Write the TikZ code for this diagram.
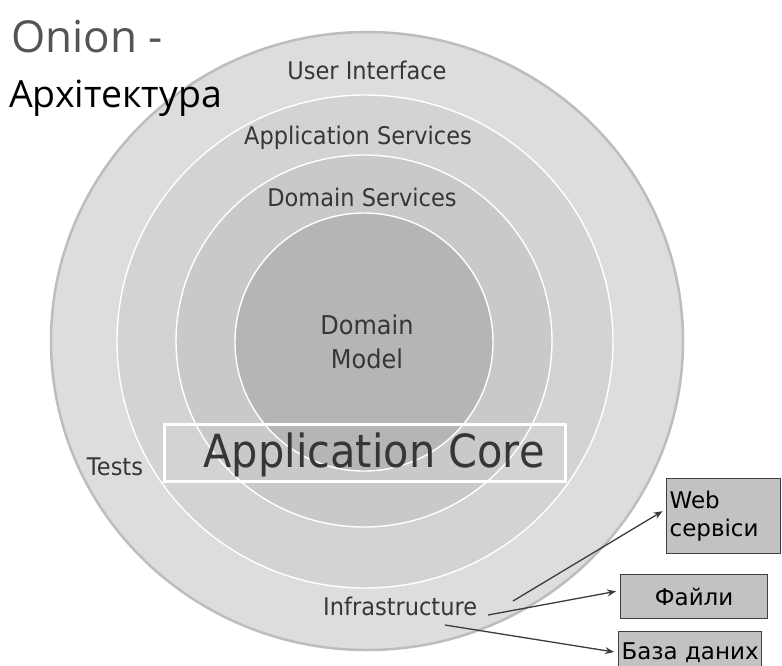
\documentclass[tikz,border=0pt]{standalone}
\usepackage{fontspec}
\setmainfont{DejaVu Sans}
\newfontfamily\titlefont{Open Sans}
\usetikzlibrary{arrows.meta}
\definecolor{ringA}{HTML}{DDDDDD}
\definecolor{ringB}{HTML}{D3D3D3}
\definecolor{ringC}{HTML}{C9C9C9}
\definecolor{ringD}{HTML}{B5B5B5}
\definecolor{outline}{HTML}{BDBDBD}
\definecolor{labelgray}{HTML}{363636}
\definecolor{boxfill}{HTML}{C2C2C2}
\definecolor{boxline}{HTML}{404040}
\definecolor{arrowgray}{HTML}{3C3C3C}
\tikzset{
  ringlabel/.style={font=\fontsize{22.5}{26}\selectfont, text=labelgray, inner sep=0pt, yscale=1.08},
  extbox/.style={draw=boxline, line width=1.2pt, fill=boxfill, inner sep=0pt, font=\fontsize{23}{29}\selectfont, text=black},
  conn/.style={draw=arrowgray, line width=1.3pt, -{Stealth[length=9pt,width=7pt,inset=3pt]}, shorten >=4pt}
}
\begin{document}
\begin{tikzpicture}[x=1pt,y=-1pt]
\useasboundingbox (0,0) rectangle (782,665);
\fill[white] (0,0) rectangle (782,665);
% rings
\fill[ringA] (367,341) ellipse [x radius=316, y radius=309];
\draw[outline, line width=2.5pt] (367,341) ellipse [x radius=316, y radius=309];
\fill[ringB] (365,341.5) ellipse [x radius=248, y radius=246.5];
\draw[white, line width=1.4pt] (365,341.5) ellipse [x radius=248, y radius=246.5];
\fill[ringC] (364,341) ellipse [x radius=188, y radius=186];
\draw[white, line width=1.4pt] (364,341) ellipse [x radius=188, y radius=186];
\fill[ringD] (364,342) ellipse [x radius=129, y radius=129];
\draw[white, line width=1.4pt] (364,342) ellipse [x radius=129, y radius=129];
% titles
\node[anchor=base west, inner sep=0pt, text=labelgray!85, font=\titlefont\fontsize{44}{50}\selectfont] (title1) at (11,52) {Onion -};
\node[anchor=base west, inner sep=0pt, text=black, font=\titlefont\fontsize{37.5}{42}\selectfont] (title2) at (9,107) {Архітектура};
% ring labels
\node[ringlabel] (ui) at (367,70) {User Interface};
\node[ringlabel] (as) at (358,138) {Application Services};
\node[ringlabel] (ds) at (362,197) {Domain Services};
\node[ringlabel, font=\fontsize{24}{31}\selectfont, align=center] (dm) at (367,342) {Domain\\Model};
\node[ringlabel] (tests) at (115,467) {Tests};
\node[ringlabel, anchor=base west] (infra) at (323,615) {Infrastructure};
% application core
\draw[white, line width=3pt] (164,424) rectangle (565,481);
\node[inner sep=0pt, text=labelgray, font=\fontsize{41.5}{48}\selectfont, yscale=1.1] (core) at (374,455) {Application Core};
% external boxes
\node[extbox, minimum width=114pt, minimum height=75pt, anchor=north west, align=left, text width=110pt] (web) at (666,478) {\hspace*{1pt}Web\\[-1pt]\hspace*{1pt}сервіси};
\node[extbox, minimum width=147pt, minimum height=44pt, anchor=north west] (files) at (620,574) {Файли};
\node[extbox, minimum width=143pt, minimum height=42pt, anchor=north west] (db) at (618,631) {База даних};
% connectors
\coordinate (s1) at (513,601);
\coordinate (s2) at (488,615);
\coordinate (s3) at (445,625);
\draw[conn] (s1) -- ([yshift=7pt]web.west);
\draw[conn] (s2) -- ([yshift=6pt]files.west);
\draw[conn] (s3) -- ([yshift=0pt]db.west);
\end{tikzpicture}
\end{document}
